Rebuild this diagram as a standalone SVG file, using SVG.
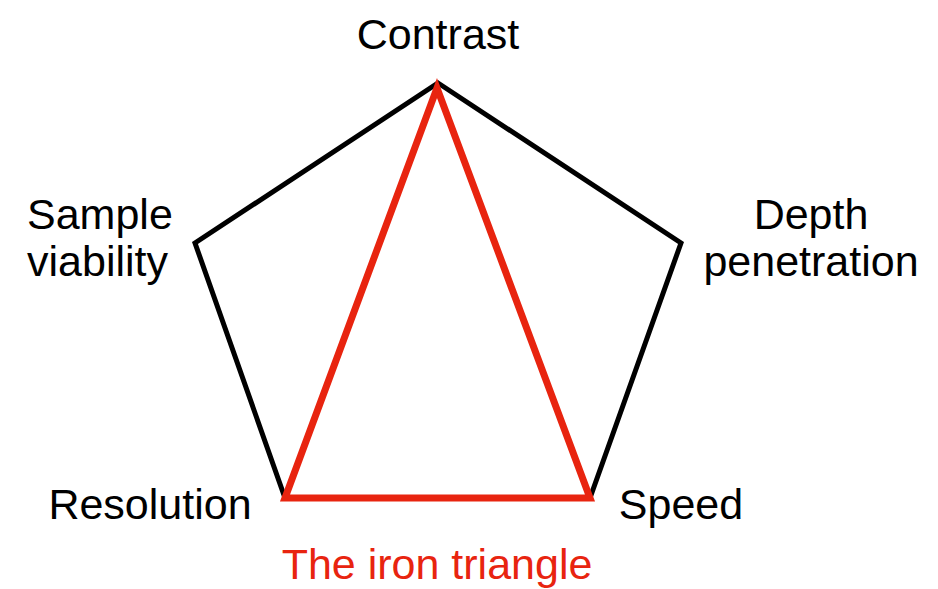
<svg xmlns="http://www.w3.org/2000/svg" width="938" height="589" viewBox="0 0 938 589">
<style>
.lbl{font-family:"Liberation Sans",Arial,sans-serif;font-size:43px;fill:#000}
.red{fill:#e8240f}
.pent{fill:none;stroke:#000;stroke-width:5;stroke-linejoin:miter}
.tri{fill:none;stroke:#e8240f;stroke-width:7;stroke-linejoin:miter}
</style>
<rect width="938" height="589" fill="#fff"/>
<g id="connectors">
<polygon class="pent" points="438,83 681,243 590,498 285,498 195,243"/>
<polygon class="tri" points="437,88 590,498 285,498"/>
</g>
<g id="contrast"><text class="lbl" x="438" y="49" text-anchor="middle">Contrast</text></g>
<g id="sample-viability"><text class="lbl" x="27" y="229">Sample</text><text class="lbl" x="27" y="276">viability</text></g>
<g id="depth-penetration"><text class="lbl" x="811" y="229" text-anchor="middle">Depth</text><text class="lbl" x="811" y="276" text-anchor="middle">penetration</text></g>
<g id="resolution"><text class="lbl" x="150" y="519" text-anchor="middle">Resolution</text></g>
<g id="speed"><text class="lbl" x="681" y="519" text-anchor="middle">Speed</text></g>
<g id="iron-triangle"><text class="lbl red" x="437" y="579" text-anchor="middle">The iron triangle</text></g>
</svg>
